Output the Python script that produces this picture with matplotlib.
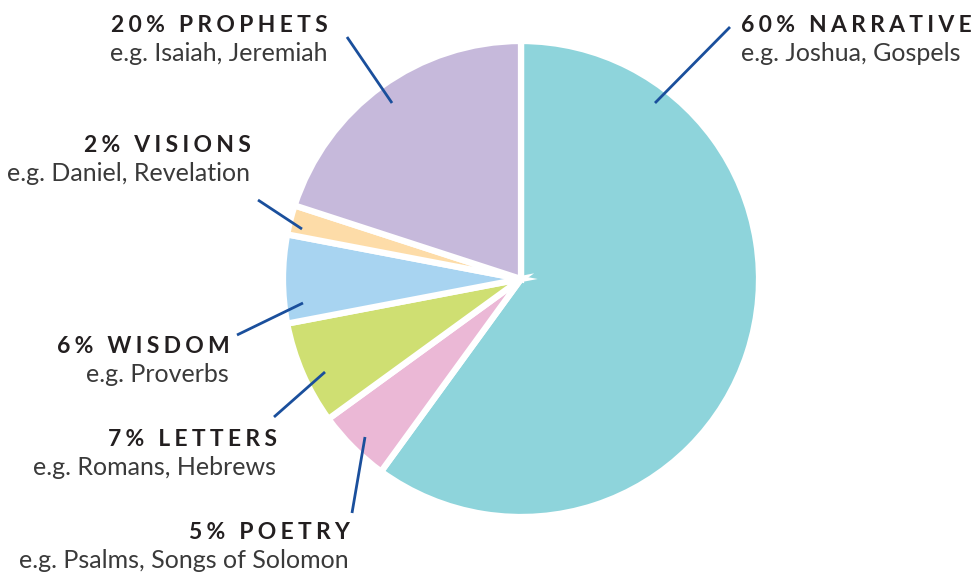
import matplotlib.pyplot as plt

# share of the bible by genre, drawn clockwise from 12 o'clock
genres = ['NARRATIVE', 'POETRY', 'LETTERS', 'WISDOM', 'VISIONS', 'PROPHETS']
shares = [60, 5, 7, 6, 2, 20]
examples = ['e.g. Joshua, Gospels', 'e.g. Psalms, Songs of Solomon',
            'e.g. Romans, Hebrews', 'e.g. Proverbs', 'e.g. Daniel, Revelation',
            'e.g. Isaiah, Jeremiah']
colors = ['#8ed4db', '#ebb8d6', '#cfdf72', '#a8d4f1', '#fddca8', '#c6b9db']

W, H = 980, 573
fig = plt.figure(figsize=(9.8, 5.73), dpi=100)
ax = fig.add_axes([0, 0, 1, 1])
ax.set_xlim(0, W)
ax.set_ylim(0, H)
ax.set_aspect('equal')
ax.axis('off')

ax.pie(shares, colors=colors, startangle=90, counterclock=False,
       center=(521, H - 279), radius=238, explode=[0.015, 0, 0, 0, 0, 0],
       wedgeprops=dict(edgecolor='white', linewidth=4.5, antialiased=True))
ax.set_xlim(0, W)
ax.set_ylim(0, H)


def tracked(s):
    return '\u2009\u200a'.join(s)


# label anchor (x, title baseline from top, alignment) and leader line (outer, inner) in pixels
label_pos = {
    'NARRATIVE': (741, 32, 'left', (730, 27), (655, 103)),
    'POETRY': (350, 539, 'right', (352, 513), (365, 437)),
    'LETTERS': (277, 446, 'right', (274, 417), (325, 372)),
    'WISDOM': (230, 353, 'right', (237, 335), (303, 303)),
    'VISIONS': (251, 152, 'right', (258, 200), (302, 229)),
    'PROPHETS': (328, 32, 'right', (347, 37), (392, 103)),
}

for g, s, ex in zip(genres, shares, examples):
    x, yb, ha, p0, p1 = label_pos[g]
    ax.text(x, H - yb, tracked(f'{s}% {g}'), ha=ha, va='baseline',
            fontsize=16.5, fontweight='bold', color='#231f20',
            family=['Lato', 'DejaVu Sans'])
    ax.text(x - 1 if ha == 'right' else x, H - yb - 29, ex, ha=ha, va='baseline',
            fontsize=18, color='#3a3a3a', family=['Lato', 'DejaVu Sans'])
    ax.plot([p0[0], p1[0]], [H - p0[1], H - p1[1]], color='#1a4f9c',
            lw=2, solid_capstyle='butt')

fig.savefig('out.png', dpi=100)
